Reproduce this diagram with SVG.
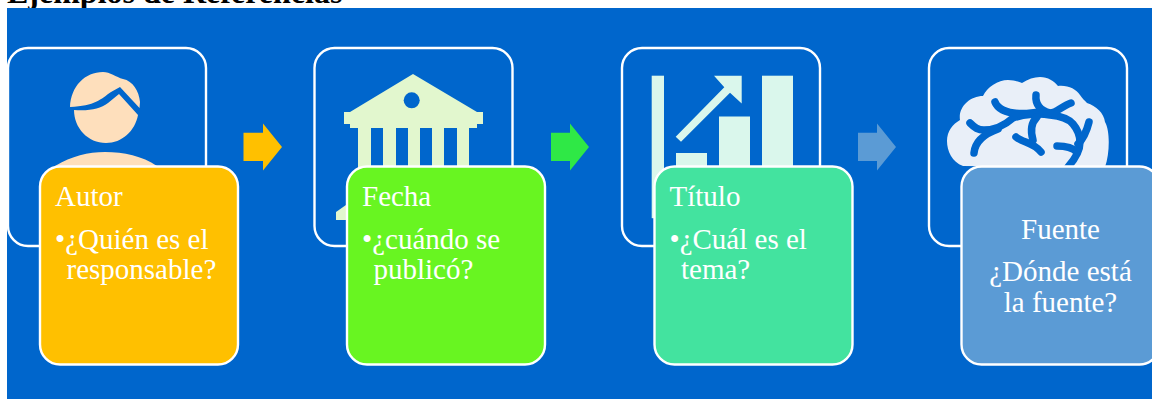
<svg xmlns="http://www.w3.org/2000/svg" width="1152" height="399" viewBox="0 0 1152 399">
<style>
.t{font-family:"Liberation Serif","Times New Roman",serif;fill:#fff;font-size:29px}
.back{fill:#0066cc;stroke:#fff;stroke-width:2.4}
.front{stroke:#fff;stroke-width:2.4}
</style>
<rect width="1152" height="399" fill="#fff"/>
<text x="7" y="3" font-family="'Liberation Serif',serif" font-weight="bold" font-size="32" fill="#000">Ejemplos de Referencias</text>
<rect x="7" y="8" width="1145" height="391" fill="#0066cc"/>
<g id="connectors">
<path d="M243.500 132.700H263V123.500L282 147L263 170.500V161H243.500Z" fill="#ffc000"/>
<path d="M551 132.700H570V123.500L589 147L570 170.500V161H551Z" fill="#2fe846"/>
<path d="M858 132.700H877V123.500L896 147L877 170.500V161H858Z" fill="#5b9bd5"/>
</g>
<g id="autor">
<rect class="back" x="8" y="48" width="198" height="198" rx="20"/>
<path d="M70 107C71 86 85 72 103 72C110 72 116 77 123 79C133 81 139 91 140 102L139.500 108L120 87L111 92C101 99 95 106 70 107Z" fill="#fedfbc"/>
<path d="M74 110C90 111 100 109 108 103L119 94L138 115C135 131 122 143 106 143C88 143 74 128 74 110Z" fill="#fedfbc"/>
<path d="M55 166C72 156 88 152 105 152C124 152 142 156 157 166Z" fill="#fedfbc"/>
<rect class="front" x="40" y="166.500" width="198" height="198" rx="20" fill="#ffc000"/>
<text class="t" x="55" y="205.500">Autor</text>
<text class="t" x="55" y="248.500">•¿Quién es el</text>
<text class="t" x="66.500" y="278.500">responsable?</text>
</g>
<g id="fecha">
<rect class="back" x="314.500" y="48" width="198" height="198" rx="20"/>
<path d="M413 74L350 112H344V124H350V128H358V168H371V128H383V168H396V128H408V168H420V128H432V168H444V128H457V168H469V128H477V124H483V112H477Z" fill="#e2f7ce"/>
<circle cx="411.700" cy="100.300" r="8" fill="#0066cc"/>
<path d="M336 212L346 205V220H336Z" fill="#e2f7ce"/>
<rect class="front" x="347" y="166.500" width="198" height="198" rx="20" fill="#68f521"/>
<text class="t" x="362" y="205.500">Fecha</text>
<text class="t" x="362" y="248.500">•¿cuándo se</text>
<text class="t" x="373.500" y="278.500">publicó?</text>
</g>
<g id="titulo">
<rect class="back" x="622" y="48" width="198" height="198" rx="20"/>
<rect x="651.700" y="75.700" width="12.300" height="142.500" fill="#daf7ec"/>
<rect x="676" y="153" width="31" height="15" fill="#daf7ec"/>
<rect x="719" y="116.500" width="31" height="50" fill="#daf7ec"/>
<rect x="762" y="75.700" width="31" height="92" fill="#daf7ec"/>
<path d="M714 75.700H741.700V103.500L730 92.700L681 141.700L675.700 136.700L724.300 87.300Z" fill="#daf7ec"/>
<rect class="front" x="654.500" y="166.500" width="198" height="198" rx="20" fill="#43e39f"/>
<text class="t" x="669.500" y="205.500">Título</text>
<text class="t" x="669.500" y="248.500">•¿Cuál es el</text>
<text class="t" x="681" y="278.500">tema?</text>
</g>
<g id="fuente">
<rect class="back" x="929" y="48" width="198" height="198" rx="20"/>
<path d="M963 166C952 162 947 151 947 141C947 131 953 124 960 120C958 107 970 96 983 96C987 87 998 80 1008 80C1014 80 1019 82 1022 83C1028 79 1034 77 1040 77C1048 77 1054 81 1058 86C1068 85 1076 89 1080 95C1082 98 1085 101 1087 103C1096 106 1104 113 1105 122C1110 130 1110 153 1105 167Z" fill="#e9eff8"/>
<g fill="none" stroke="#0066cc" stroke-width="7.500" stroke-linecap="round" stroke-linejoin="round">
<path d="M970 123C975 128 978 130 984 130C994 130 1005 125 1013 118C1024 114 1040 113 1050 115C1060 116 1068 118 1073 124C1078 130 1080 136 1080 142C1080 150 1076 158 1068 167"/>
<path d="M995 102C999 112 1014 114 1027 113.500L1040 112"/>
<path d="M1036 95C1035 105 1041 111 1050 113C1056 113 1062 106 1071 103"/>
<path d="M974 153C975 142 984 134 998 129"/>
<path d="M1089 122C1087 130 1084 138 1078 144"/>
<path d="M1037 117C1032 122 1030 130 1033 140"/>
<path d="M1016 137C1023 143 1033 142 1041 152"/>
<path d="M1057 146C1066 146 1072 147 1077 152"/>
</g>
<rect class="front" x="961.500" y="166.500" width="198" height="198" rx="20" fill="#5b9bd5"/>
<text class="t" x="1060.500" y="239.300" text-anchor="middle">Fuente</text>
<text class="t" x="1060.500" y="281" text-anchor="middle">¿Dónde está</text>
<text class="t" x="1060.500" y="312" text-anchor="middle">la fuente?</text>
</g>
</svg>
